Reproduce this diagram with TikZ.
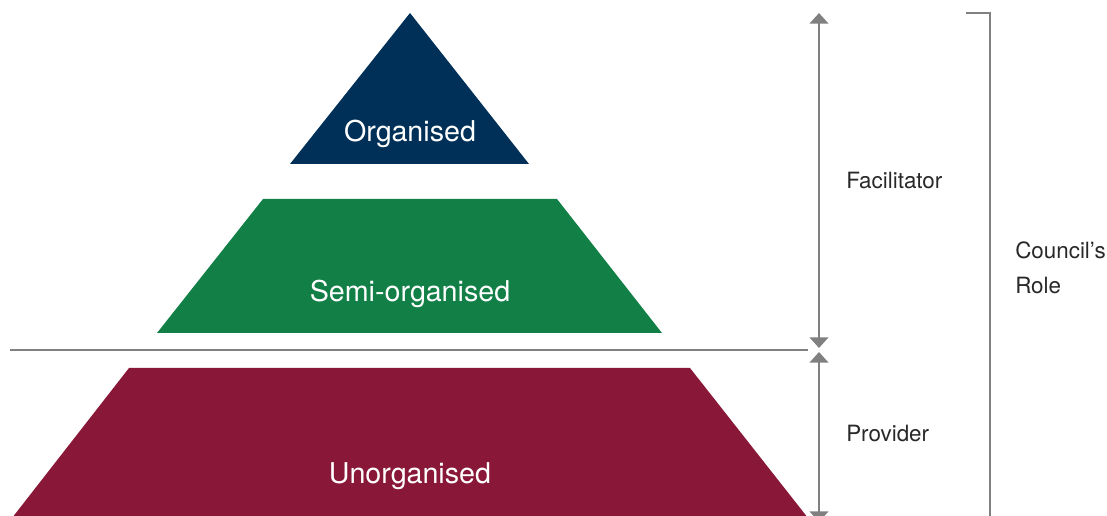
\documentclass[tikz,border=0pt]{standalone}
\usepackage{fontspec}
\setmainfont{TeX Gyre Heros}
\usetikzlibrary{arrows.meta}
\definecolor{navy}{RGB}{0,48,87}
\definecolor{midgreen}{RGB}{18,128,70}
\definecolor{maroon}{RGB}{137,24,56}
\definecolor{linegray}{RGB}{128,128,128}
\definecolor{txtgray}{RGB}{40,40,40}
\tikzset{
  tier/.style={draw=none},
  tierlabel/.style={text=white,font=\fontsize{21.5}{25}\selectfont,inner sep=0pt},
  sidelabel/.style={text=txtgray,font=\fontsize{16.8}{20}\selectfont,inner sep=0pt,anchor=west},
  greyline/.style={draw=linegray,line width=1.6pt},
  dimarrow/.style={greyline,{Triangle[width=14pt,length=8pt]}-{Triangle[width=14pt,length=8pt]}}
}
\begin{document}
\begin{tikzpicture}[x=0.75pt,y=-0.75pt]
\useasboundingbox (0,0) rectangle (1107,516);
\clip (0,0) rectangle (1107,516);
% tiers
\fill[navy] (410,13) -- (529,164) -- (290,164) -- cycle;
\fill[midgreen] (263,199) -- (557,199) -- (662,333) -- (157,333) -- cycle;
\fill[maroon] (129,368) -- (690,368) -- (808,518) -- (12,518) -- cycle;
\node[tierlabel] (org) at (410,134) {Organised};
\node[tierlabel] (semi) at (410,294) {Semi-organised};
\node[tierlabel] (unorg) at (410,476) {Unorganised};
% separator
\coordinate (sepL) at (10,350);
\coordinate (sepR) at (808,350);
\draw[greyline,line width=2.2pt] (sepL) -- (sepR);
% arrows
\coordinate (a1) at (819,13);
\coordinate (a2) at (819,348);
\coordinate (a3) at (819,352);
\coordinate (a4) at (819,522);
\draw[dimarrow] (a1) -- (a2);
\draw[dimarrow] (a3) -- (a4);
% bracket
\coordinate (b1) at (966,13);
\coordinate (b2) at (990,13);
\coordinate (b3) at (990,520);
\draw[greyline] (b1) -- (b2) -- (b3);
% labels
\node[sidelabel] (fac) at (846,181) {Facilitator};
\node[sidelabel] (prov) at (846,434) {Provider};
\node[sidelabel] (cou) at (1015,250) {Council’s};
\node[sidelabel] (role) at (1015,286) {Role};
\end{tikzpicture}
\end{document}
